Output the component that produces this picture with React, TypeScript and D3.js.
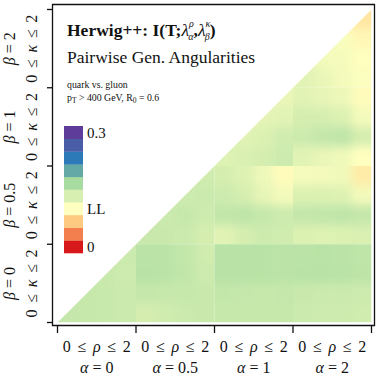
import React from 'react';
import * as d3 from 'd3';

// generalized angularity parameters
const alphaValues = ['0', '0.5', '1', '2'];
const betaValues = ['0', '0.5', '1', '2'];

// colour bar, bottom (0) to top (0.3)
const cbarColors = ['#d7191c', '#f27f4d', '#fec980', '#ffffbf', '#d7efb1', '#a7dba0', '#65a9a6', '#2c7bb8', '#4a5da7', '#5e3c99'];
const cbarTickValues = [0, 0.1, 0.3];
const cbarTickLabels = ['0', 'LL', '0.3'];
const miMax = 0.3;

const pad = (n: number, vals: number[]) => [...Array(n).fill(null), ...vals];

// mutual information, 16x16 cells, top row first (beta=2, kappa=2) to bottom
const mi: (number | null)[][] = [
  pad(15, [0.085]),
  pad(14, [0.105, 0.095]),
  pad(13, [0.11, 0.108, 0.1]),
  pad(12, [0.125, 0.118, 0.11, 0.103]),
  pad(11, [0.118, 0.125, 0.12, 0.115, 0.098]),
  pad(10, [0.122, 0.125, 0.135, 0.135, 0.13, 0.11]),
  pad(9, [0.125, 0.13, 0.138, 0.14, 0.146, 0.15, 0.135]),
  pad(8, [0.128, 0.132, 0.135, 0.14, 0.125, 0.118, 0.113, 0.1]),
  pad(7, [0.138, 0.135, 0.128, 0.115, 0.098, 0.108, 0.11, 0.112, 0.088]),
  pad(6, [0.14, 0.142, 0.14, 0.135, 0.12, 0.11, 0.13, 0.13, 0.128, 0.11]),
  pad(5, [0.142, 0.145, 0.14, 0.148, 0.15, 0.145, 0.14, 0.146, 0.148, 0.15, 0.146]),
  pad(4, [0.143, 0.143, 0.142, 0.135, 0.125, 0.135, 0.14, 0.138, 0.13, 0.128, 0.13, 0.132]),
  pad(3, [0.142, 0.153, 0.153, 0.147, 0.138, 0.154, 0.155, 0.154, 0.153, 0.153, 0.154, 0.153, 0.15]),
  pad(2, [0.143, 0.14, 0.154, 0.153, 0.148, 0.14, 0.155, 0.155, 0.154, 0.153, 0.154, 0.155, 0.154, 0.151]),
  pad(1, [0.145, 0.144, 0.142, 0.146, 0.145, 0.145, 0.143, 0.147, 0.146, 0.145, 0.146, 0.143, 0.142, 0.142, 0.14]),
  pad(0, [0.146, 0.145, 0.144, 0.142, 0.135, 0.138, 0.142, 0.143, 0.145, 0.145, 0.145, 0.145, 0.142, 0.14, 0.14, 0.138]),
];

const FONT = "'Liberation Serif', 'Times New Roman', serif";

const App = () => {
  const W = 382;
  const H = 382;
  const left = 57.5, right = 371.5, top = 9.5, bottom = 322.5;
  const nCells = mi.length;
  const perBlock = nCells / 4;
  const E = 14; // edge extension so the blur does not fade at block borders

  const x = d3.scaleLinear().domain([0, 4]).range([left, right]);
  const y = d3.scaleLinear().domain([0, 4]).range([bottom, top]);
  const cellX = d3.scaleBand<number>().domain(d3.range(nCells)).range([left, right]);
  const cellY = d3.scaleBand<number>().domain(d3.range(nCells)).range([top, bottom]);
  const bw = cellX.bandwidth();

  const stops = cbarColors.map((_, i) => (i * miMax) / (cbarColors.length - 1));
  const color = d3.scaleLinear<string>().domain(stops).range(cbarColors).interpolate(d3.interpolateRgb);

  type Cell = { i: number; j: number; v: number };
  const blocks: Cell[][] = d3.range(16).map(() => []);
  mi.forEach((row, i) => row.forEach((v, j) => {
    if (v != null) blocks[Math.floor(i / perBlock) * 4 + Math.floor(j / perBlock)].push({ i, j, v });
  }));

  const cellRect = (c: Cell) => {
    const r = c.i % perBlock, k = c.j % perBlock;
    const diag = c.i + c.j === nCells - 1;
    let x0 = cellX(c.j) as number, x1 = x0 + bw;
    let y0 = cellY(c.i) as number, y1 = y0 + bw;
    if (k === 0 || diag) x0 -= E;
    if (k === perBlock - 1) x1 += E;
    if (r === 0 || diag) y0 -= E;
    if (r === perBlock - 1) y1 += E;
    return { x: x0, y: y0, width: x1 - x0 + 0.4, height: y1 - y0 + 0.4 };
  };

  const tri = `M${x(0)},${y(0)}L${x(4)},${y(4)}L${x(4)},${y(0)}Z`;

  // colour bar
  const cbX = 64, cbW = 19;
  const cbY = d3.scaleBand<number>().domain(d3.range(cbarColors.length).reverse()).range([126, 253]);
  const bandOf = (v: number) => Math.round((v / miMax) * (cbarColors.length - 1));

  const ticks = d3.range(5);

  return (
    <div style={{ position: 'absolute', left: 0, top: 0 }}>
      <svg width={W} height={H} style={{ display: 'block', background: '#fff' }} fontFamily={FONT}>
        <defs>
          <clipPath id="tri"><path d={tri} /></clipPath>
          <filter id="smooth" filterUnits="userSpaceOnUse" x={0} y={0} width={W} height={H} colorInterpolationFilters="sRGB">
            <feGaussianBlur stdDeviation={5} />
          </filter>
          {blocks.map((_, b) => (
            <clipPath id={`blk${b}`} key={`blk${b}`}>
              <rect x={x(b % 4)} y={y(4 - Math.floor(b / 4))} width={x(1) - x(0)} height={y(0) - y(1)} />
            </clipPath>
          ))}
        </defs>
        <g clipPath="url(#tri)">
          {blocks.map((cells, b) => cells.length > 0 && (
            <g key={`b${b}`} clipPath={`url(#blk${b})`}>
              <g filter="url(#smooth)">
                {cells.map(c => <rect key={`${c.i}-${c.j}`} {...cellRect(c)} fill={color(c.v)} />)}
              </g>
            </g>
          ))}
        </g>

        {/* frame */}
        <g stroke="#111" strokeWidth={1.3} fill="none">
          <line x1={52.5} x2={52.5} y1={4} y2={326} />
          <line x1={52} x2={375} y1={325.5} y2={325.5} />
          <line x1={52} x2={375} y1={4.5} y2={4.5} />
          <line x1={374.5} x2={374.5} y1={4} y2={326} />
          {ticks.map(t => <line key={`yt${t}`} x1={47} x2={52.5} y1={y(t)} y2={y(t)} />)}
          {ticks.map(t => <line key={`xt${t}`} x1={x(t)} x2={x(t)} y1={325.5} y2={333} />)}
        </g>

        {/* x labels */}
        {alphaValues.map((a, k) => (
          <g key={`xl${a}`} fontSize={16} textAnchor="middle" fill="#111">
            <text x={x(k + 0.5)} y={352} textLength={68} lengthAdjust="spacing">0 ≤ <tspan fontStyle="italic">ρ</tspan> ≤ 2</text>
            <text x={x(k + 0.5)} y={373}><tspan fontStyle="italic">α</tspan> = {a}</text>
          </g>
        ))}

        {/* y labels */}
        {betaValues.map((b, k) => (
          <g key={`yl${b}`} fontSize={16} textAnchor="middle" fill="#111">
            <text transform={`translate(15,${y(k + 0.5)}) rotate(-90)`}><tspan fontStyle="italic">β</tspan> = {b}</text>
            <text transform={`translate(37,${y(k + 0.5)}) rotate(-90)`} textLength={68} lengthAdjust="spacing">0 ≤ <tspan fontStyle="italic">κ</tspan> ≤ 2</text>
          </g>
        ))}

        {/* title */}
        <text x={67} y={36} fontSize={17.5} fontWeight="bold" fill="#111">
          Herwig++: I(T;<tspan fontStyle="italic" fontWeight="normal">λ</tspan>
          <tspan fontSize={10} dy={-9} fontStyle="italic" fontWeight="normal">ρ</tspan>
          <tspan fontSize={10} dx={-5.5} dy={13} fontStyle="italic" fontWeight="normal">α</tspan>
          <tspan dy={-4}>,</tspan>
          <tspan fontStyle="italic" fontWeight="normal">λ</tspan>
          <tspan fontSize={10} dy={-9} fontStyle="italic" fontWeight="normal">κ</tspan>
          <tspan fontSize={10} dx={-5.5} dy={13} fontStyle="italic" fontWeight="normal">β</tspan>
          <tspan dy={-4}>)</tspan>
        </text>
        <text x={67} y={63} fontSize={17.5} fill="#111">Pairwise Gen. Angularities</text>
        <text x={67} y={88} fontSize={9.8} fill="#111">quark vs. gluon</text>
        <text x={67} y={101} fontSize={9.8} fill="#111">
          p<tspan fontSize={7.5} dy={2}>T</tspan><tspan dy={-2}> &gt; 400 GeV, R</tspan><tspan fontSize={7.5} dy={2}>0</tspan><tspan dy={-2}> = 0.6</tspan>
        </text>

        {/* colour bar */}
        {cbarColors.map((c, i) => (
          <rect key={`cb${i}`} x={cbX} y={cbY(i)} width={cbW} height={cbY.bandwidth() + 0.3} fill={c} />
        ))}
        {cbarTickValues.map((v, k) => (
          <text key={`cbt${k}`} x={87} y={(cbY(bandOf(v)) as number) + cbY.bandwidth() / 2 + 5.5} fontSize={15} fill="#111">
            {cbarTickLabels[k]}
          </text>
        ))}
      </svg>
    </div>
  );
};

export default App;
